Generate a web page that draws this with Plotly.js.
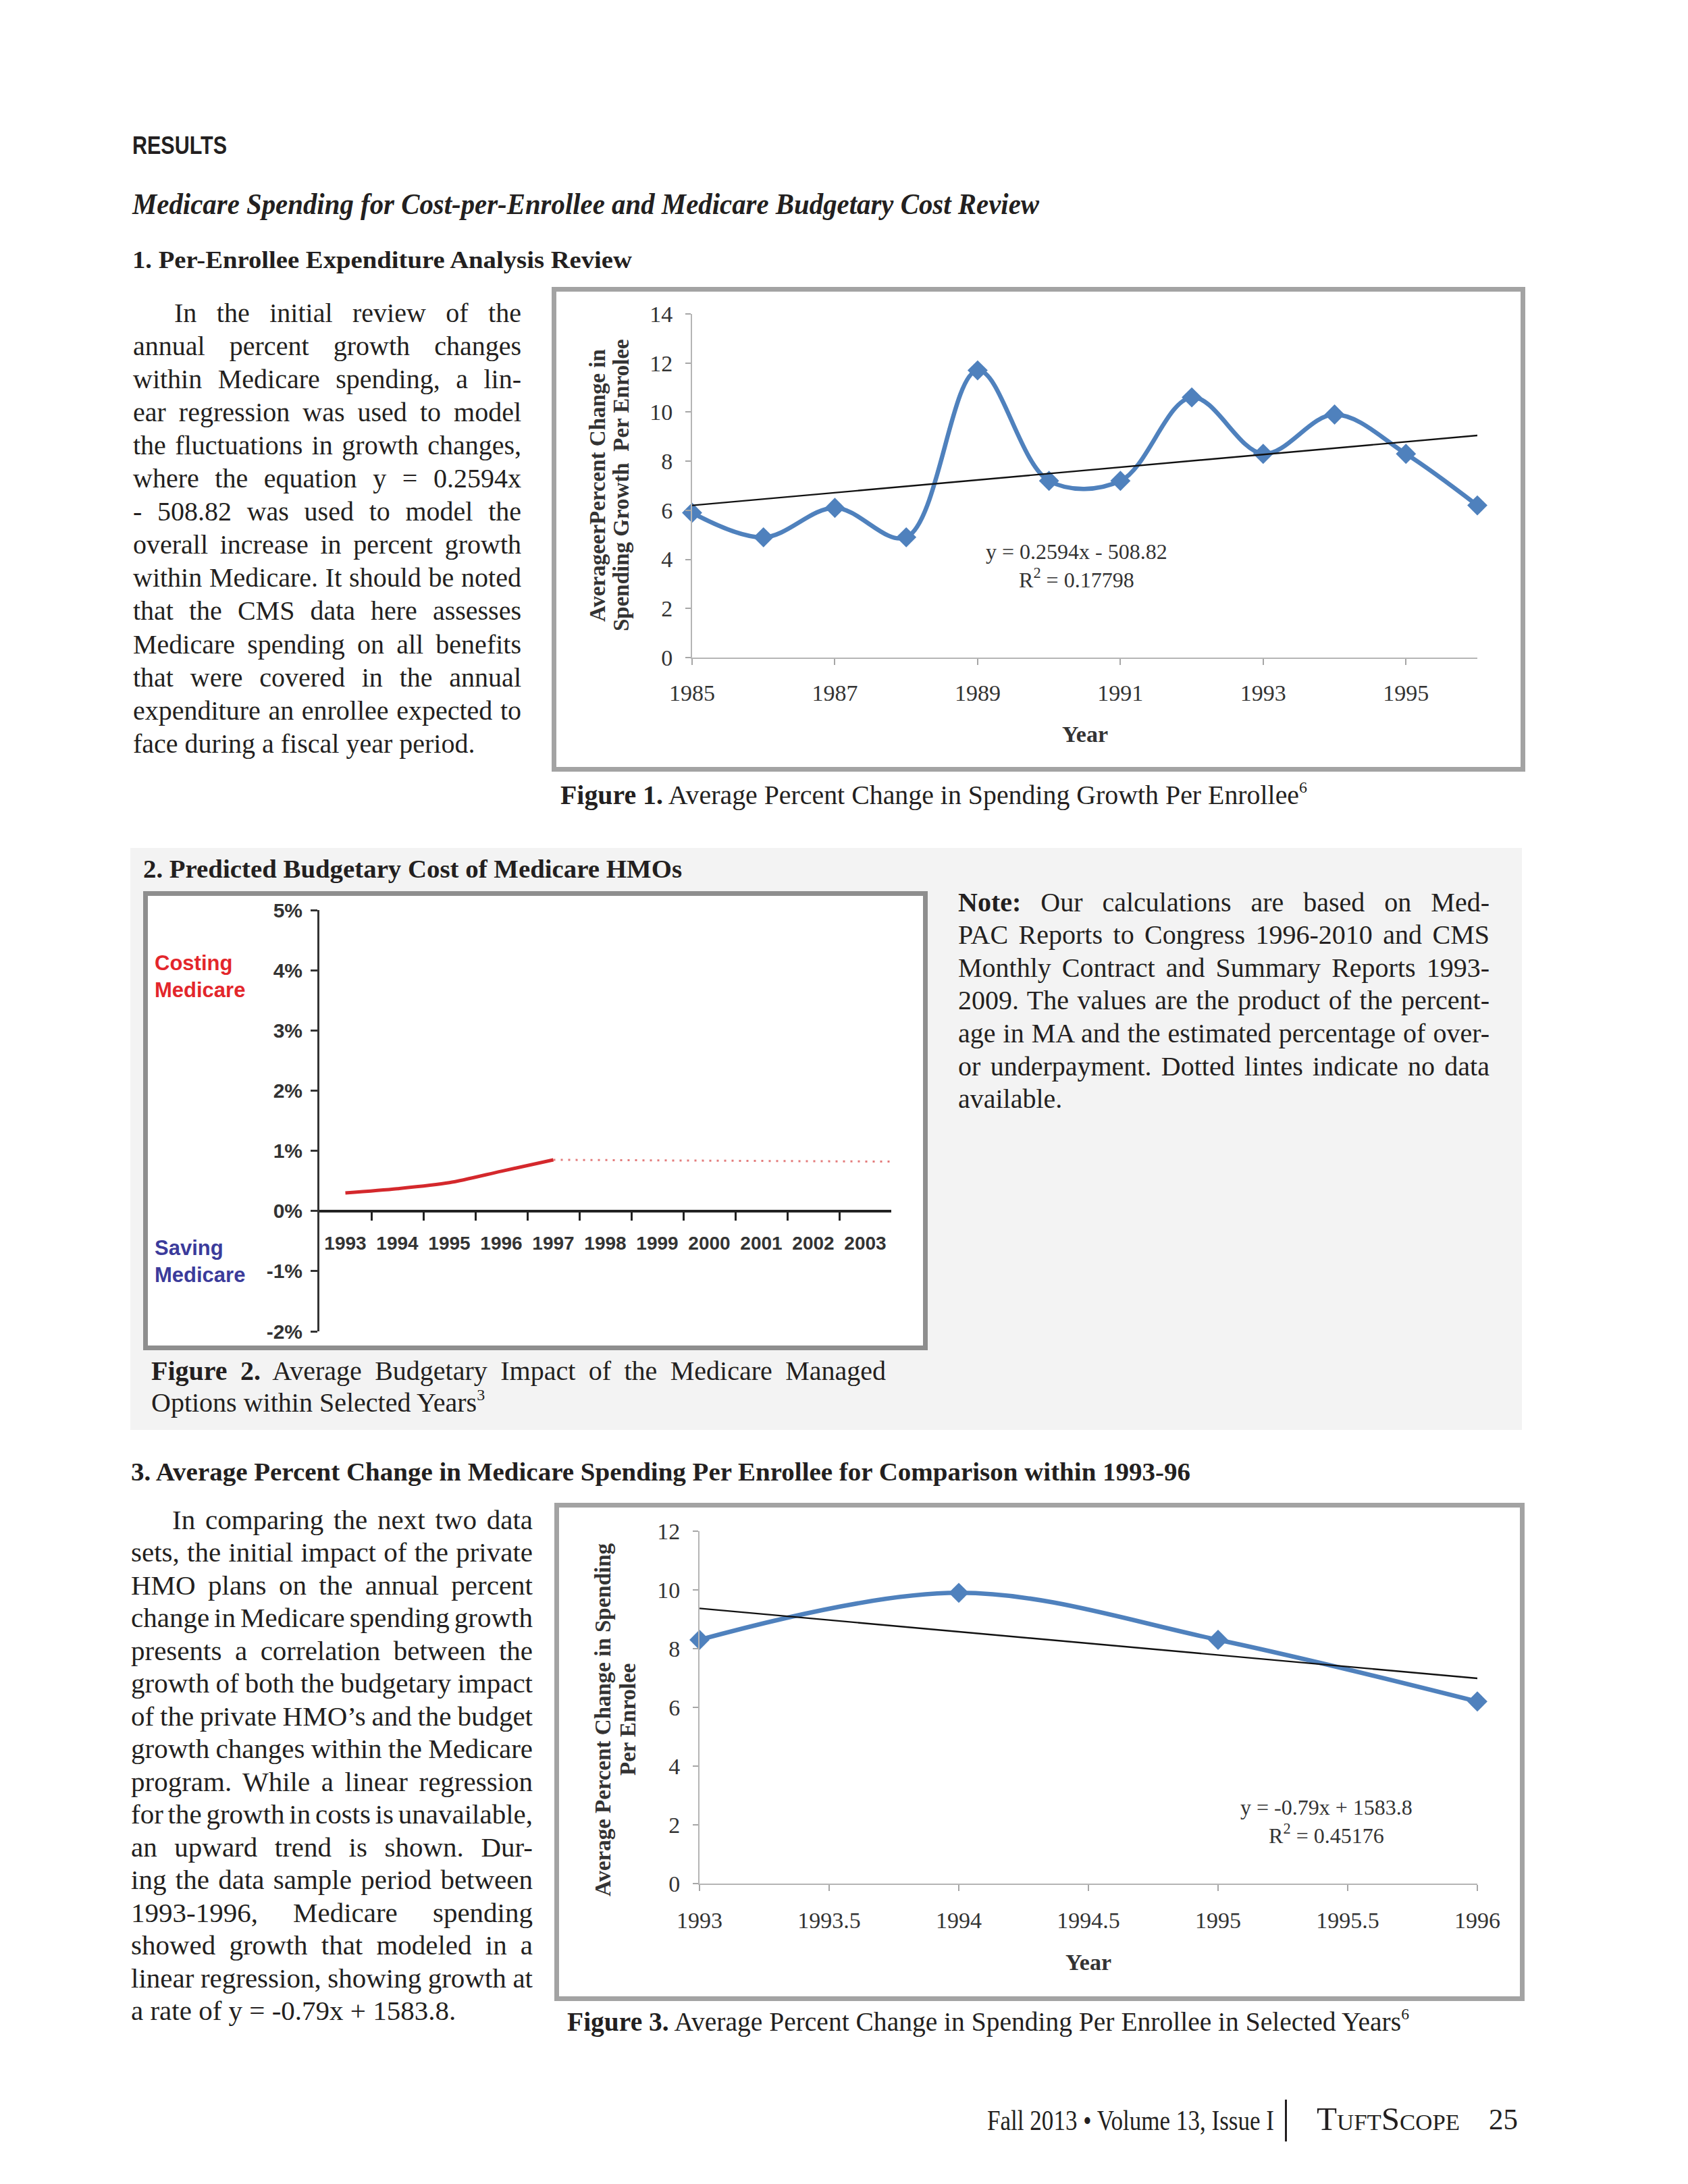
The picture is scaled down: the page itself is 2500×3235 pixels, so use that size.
<!DOCTYPE html>
<html><head><meta charset="utf-8">
<script src="https://cdn.plot.ly/plotly-3.0.1.min.js"></script>
<style>
html,body{margin:0;padding:0;background:#fff;}
body{width:2500px;height:3235px;position:relative;overflow:hidden;font-family:"Liberation Serif",serif;color:#231f20;}
.t{position:absolute;white-space:nowrap;line-height:1;transform-origin:0 0;}
.box{position:absolute;box-sizing:border-box;background:#fff;}
sup{font-size:0.6em;vertical-align:baseline;position:relative;top:-0.7em;line-height:1;}
</style></head><body>
<div style="position:absolute;left:193px;top:1256px;width:2061px;height:862px;background:#f3f3f3"></div>
<div class="box" style="left:817px;top:425px;width:1442px;height:718px;border:7px solid #a3a3a3"><div id="chart1" style="width:1428px;height:704px"></div></div>
<div class="box" style="left:212px;top:1320px;width:1162px;height:680px;border:7px solid #8e8e8e"><div id="chart2" style="width:1148px;height:666px"></div></div>
<div class="box" style="left:821px;top:2226px;width:1437px;height:738px;border:7px solid #a3a3a3"><div id="chart3" style="width:1423px;height:724px"></div></div>
<div style="position:absolute;left:1903px;top:3110px;width:3px;height:62px;background:#231f20"></div>
<script>
// ---------- chart data ----------
const years1 = [1985,1986,1987,1988,1989,1990,1991,1992,1993,1994,1995,1996];
const growth1 = [5.9,4.9,6.1,4.9,11.7,7.2,7.2,10.6,8.3,9.9,8.3,6.2];
const trend1X = [1985,1996];
const trend1Y = [6.2,9.05];
const xTicks1 = [1985,1987,1989,1991,1993,1995];
const yTicks1 = [0,2,4,6,8,10,12,14];
const eq1 = 'y = 0.2594x - 508.82<br>R<sup>2</sup> = 0.17798';

const years2 = [1993,1994,1995,1996,1997,1998,1999,2000,2001,2002,2003];
const impactYears = [1993,1994,1995,1996,1997];
const impact = [0.30,0.37,0.47,0.66,0.85];
const noDataX = [1997,2003.5];
const noDataY = [0.85,0.82];
const yTicks2 = [-2,-1,0,1,2,3,4,5];
const yTickLabels2 = ['-2%','-1%','0%','1%','2%','3%','4%','5%'];

const years3 = [1993,1994,1995,1996];
const growth3 = [8.3,9.9,8.3,6.2];
const trend3X = [1993,1996];
const trend3Y = [9.37,6.99];
const xTicks3 = [1993,1993.5,1994,1994.5,1995,1995.5,1996];
const yTicks3 = [0,2,4,6,8,10,12];
const eq3 = 'y = -0.79x + 1583.8<br>R<sup>2</sup> = 0.45176';

// ---------- page text ----------
const body1 = [
 'In the initial review of the',
 'annual percent growth changes',
 'within Medicare spending, a lin-',
 'ear regression was used to model',
 'the fluctuations in growth changes,',
 'where the equation y = 0.2594x',
 '- 508.82 was used to model the',
 'overall increase in percent growth',
 'within Medicare. It should be noted',
 'that the CMS data here assesses',
 'Medicare spending on all benefits',
 'that were covered in the annual',
 'expenditure an enrollee expected to',
 'face during a fiscal year period.'];
const noteLines = [
 '<b>Note:</b> Our calculations are based on Med-',
 'PAC Reports to Congress 1996-2010 and CMS',
 'Monthly Contract and Summary Reports 1993-',
 '2009. The values are the product of the percent-',
 'age in MA and the estimated percentage of over-',
 'or underpayment. Dotted lintes indicate no data',
 'available.'];
const fig2Lines = [
 '<b>Figure 2.</b> Average Budgetary Impact of the Medicare Managed',
 'Options within Selected Years<sup>3</sup>'];
const body3 = [
 'In comparing the next two data',
 'sets, the initial impact of the private',
 'HMO plans on the annual percent',
 'change in Medicare spending growth',
 'presents a correlation between the',
 'growth of both the budgetary impact',
 'of the private HMO\u2019s and the budget',
 'growth changes within the Medicare',
 'program. While a linear regression',
 'for the growth in costs is unavailable,',
 'an upward trend is shown. Dur-',
 'ing the data sample period between',
 '1993-1996, Medicare spending',
 'showed growth that modeled in a',
 'linear regression, showing growth at',
 'a rate of y = -0.79x + 1583.8.'];

function put(html,x,base,size,opt){
  opt=opt||{};
  const d=document.createElement('div'); d.className='t'; d.innerHTML=html;
  const fam=opt.family||'"Liberation Serif"';
  d.style.fontFamily=fam; d.style.fontSize=size+'px';
  if(opt.weight) d.style.fontWeight=opt.weight;
  if(opt.style) d.style.fontStyle=opt.style;
  if(opt.color) d.style.color=opt.color;
  if(opt.variant) d.style.fontVariant=opt.variant;
  const k=fam.indexOf('Sans')>=0?0.8465:0.8375;
  d.style.left=x+'px'; d.style.top=(base-k*size)+'px';
  document.body.appendChild(d);
  if(opt.w){
    const nat=d.getBoundingClientRect().width;
    if(opt.mode==='justify'){
      const n=(d.textContent.match(/ /g)||[]).length;
      if(n>0) d.style.wordSpacing=((opt.w-nat)/n)+'px';
    } else {
      d.style.transform='scaleX('+(opt.w/nat)+')';
    }
  }
  return d;
}
function para(lines,x,right,base0,lh,size,indent){
  lines.forEach((s,i)=>{
    const last=i===lines.length-1;
    const xx=x+(i===0?indent:0);
    put(s,xx,base0+lh*i,size,last?{}:{w:right-xx,mode:'justify'});
  });
}
put('RESULTS',196,228,37,{family:'"Liberation Sans"',weight:700,w:140});
put('Medicare Spending for Cost-per-Enrollee and Medicare Budgetary Cost Review',196,318,44,{weight:700,style:'italic',w:1343});
put('1. Per-Enrollee Expenditure Analysis Review',196,397,36,{weight:700,w:740});
para(body1,197,772,477,49.1,40,61);
put('<b>Figure 1.</b> Average Percent Change in Spending Growth Per Enrollee<sup>6</sup>',830,1191,40,{w:1106});
put('2. Predicted Budgetary Cost of Medicare HMOs',212,1300,37,{weight:700,w:798});
para(noteLines,1419,2206,1350,48.6,40,0);
para(fig2Lines,224,1312,2044,47,40,0);
put('3. Average Percent Change in Medicare Spending Per Enrollee for Comparison within 1993-96',194,2193,37,{weight:700,w:1569});
para(body3,194,789,2265,48.5,41,61);
put('<b>Figure 3.</b> Average Percent Change in Spending Per Enrollee in Selected Years<sup>6</sup>',840,3008,40,{w:1247});
put('Fall 2013 \u2022 Volume 13, Issue I',1462,3155,42,{w:425});
put('TuftScope',1950,3155,48,{variant:'small-caps',w:212});
put('25',2205,3155,44,{w:43});

// ---------- charts ----------
const serif='Liberation Serif';
const tcol='#333333';
const cfg={staticPlot:true,displayModeBar:false};
const blue='#4f81bd';

// Chart 1
(function(){
  const L=201,R=64,T=33,B=162,W=1428,H=704,pw=W-L-R,ph=H-T-B;
  const px=X=>(X-(824+L))/pw, py=Y=>((432+T+ph)-Y)/ph;
  Plotly.newPlot('chart1',[
    {x:years1,y:growth1,type:'scatter',mode:'lines+markers',cliponaxis:false,
     line:{color:blue,width:6.5,shape:'spline',smoothing:1},
     marker:{symbol:'diamond',size:23,color:blue}},
    {x:trend1X,y:trend1Y,type:'scatter',mode:'lines',cliponaxis:false,line:{color:'#111',width:2.4}}
  ],{
    width:W,height:H,margin:{l:L,r:R,t:T,b:B},paper_bgcolor:'#fff',plot_bgcolor:'#fff',showlegend:false,
    xaxis:{range:[1985,1996],tickvals:xTicks1,ticktext:xTicks1.map(String),ticks:'outside',ticklen:9,tickwidth:2,tickcolor:'#a6a6a6',
      showline:true,linecolor:'#b5b5b5',linewidth:2,showgrid:false,zeroline:false,ticklabelstandoff:12,
      tickfont:{family:serif,size:34,color:tcol}},
    yaxis:{range:[0,14],tickvals:yTicks1,ticktext:yTicks1.map(String),ticks:'outside',ticklen:8,tickwidth:2,tickcolor:'#a6a6a6',
      showline:true,linecolor:'#b5b5b5',linewidth:2,showgrid:false,zeroline:false,ticklabelstandoff:12,
      tickfont:{family:serif,size:34,color:tcol}},
    annotations:[
      {xref:'paper',yref:'paper',x:px(885),y:py(719),text:'<b>AverageerPercent Change in</b>',textangle:-90,showarrow:false,xanchor:'center',yanchor:'middle',font:{family:serif,size:33,color:tcol}},
      {xref:'paper',yref:'paper',x:px(920),y:py(719),text:'<b>Spending Growth  Per Enrolee</b>',textangle:-90,showarrow:false,xanchor:'center',yanchor:'middle',font:{family:serif,size:33,color:tcol}},
      {xref:'paper',yref:'paper',x:0.5,y:py(1087),text:'<b>Year</b>',showarrow:false,xanchor:'center',yanchor:'middle',font:{family:serif,size:34,color:tcol}},
      {xref:'paper',yref:'paper',x:px(1594),y:py(838),text:eq1,showarrow:false,xanchor:'center',yanchor:'middle',align:'center',font:{family:serif,size:32,color:tcol}}
    ]
  },cfg);
})();

// Chart 2
(function(){
  const L=254,R=47,T=21,B=21,W=1148,H=666,pw=W-L-R,ph=H-T-B;
  const px=X=>(X-(219+L))/pw, py=Y=>((1327+T+ph)-Y)/ph;
  const sans='Liberation Sans';
  Plotly.newPlot('chart2',[
    {x:noDataX,y:noDataY,type:'scatter',mode:'lines',cliponaxis:false,line:{color:'#e37b7b',width:3,dash:'3px,8px'}},
    {x:impactYears,y:impact,type:'scatter',mode:'lines',cliponaxis:false,line:{color:'#d4282c',width:5,shape:'spline',smoothing:0.8}}
  ],{
    width:W,height:H,margin:{l:L,r:R,t:T,b:B},paper_bgcolor:'#fff',plot_bgcolor:'#fff',showlegend:false,
    xaxis:{range:[1992.5,2003.5],anchor:'free',position:2/7,tickvals:years2,ticktext:years2.map(String),ticks:'',
      minor:{tickvals:years2.slice(0,-1).map(v=>v+0.5),ticks:'outside',ticklen:12,tickwidth:3,tickcolor:'#222',showgrid:false},
      showline:true,linecolor:'#222',linewidth:4,showgrid:false,zeroline:false,ticklabelstandoff:22,
      tickfont:{family:sans,size:28,color:'#333',weight:'bold'}},
    yaxis:{range:[-2,5],tickvals:yTicks2,ticktext:yTickLabels2,ticks:'outside',ticklen:10,tickwidth:3,tickcolor:'#333',
      showline:true,linecolor:'#333',linewidth:3,showgrid:false,zeroline:false,ticklabelstandoff:6,
      tickfont:{family:sans,size:30,color:'#333',weight:'bold'}},
    annotations:[
      {xref:'paper',yref:'paper',x:px(227),y:py(1446),text:'<b>Costing<br>Medicare</b>',showarrow:false,xanchor:'left',yanchor:'middle',align:'left',font:{family:sans,size:31,color:'#e3262b'}},
      {xref:'paper',yref:'paper',x:px(227),y:py(1868),text:'<b>Saving<br>Medicare</b>',showarrow:false,xanchor:'left',yanchor:'middle',align:'left',font:{family:sans,size:31,color:'#3b3b9b'}}
    ]
  },cfg);
})();

// Chart 3
(function(){
  const L=208,R=63,T=35,B=167,W=1423,H=724,pw=W-L-R,ph=H-T-B;
  const px=X=>(X-(828+L))/pw, py=Y=>((2233+T+ph)-Y)/ph;
  Plotly.newPlot('chart3',[
    {x:years3,y:growth3,type:'scatter',mode:'lines+markers',cliponaxis:false,
     line:{color:blue,width:6.5,shape:'spline',smoothing:1},
     marker:{symbol:'diamond',size:23,color:blue}},
    {x:trend3X,y:trend3Y,type:'scatter',mode:'lines',cliponaxis:false,line:{color:'#111',width:2.4}}
  ],{
    width:W,height:H,margin:{l:L,r:R,t:T,b:B},paper_bgcolor:'#fff',plot_bgcolor:'#fff',showlegend:false,
    xaxis:{range:[1993,1996],tickvals:xTicks3,ticktext:xTicks3.map(String),ticks:'outside',ticklen:9,tickwidth:2,tickcolor:'#a6a6a6',
      showline:true,linecolor:'#b5b5b5',linewidth:2,showgrid:false,zeroline:false,ticklabelstandoff:14,
      tickfont:{family:serif,size:34,color:tcol}},
    yaxis:{range:[0,12],tickvals:yTicks3,ticktext:yTicks3.map(String),ticks:'outside',ticklen:8,tickwidth:2,tickcolor:'#a6a6a6',
      showline:true,linecolor:'#b5b5b5',linewidth:2,showgrid:false,zeroline:false,ticklabelstandoff:12,
      tickfont:{family:serif,size:34,color:tcol}},
    annotations:[
      {xref:'paper',yref:'paper',x:px(893),y:py(2547),text:'<b>Average Percent Change in Spending</b>',textangle:-90,showarrow:false,xanchor:'center',yanchor:'middle',font:{family:serif,size:33,color:tcol}},
      {xref:'paper',yref:'paper',x:px(930),y:py(2547),text:'<b>Per Enrolee</b>',textangle:-90,showarrow:false,xanchor:'center',yanchor:'middle',font:{family:serif,size:33,color:tcol}},
      {xref:'paper',yref:'paper',x:0.5,y:py(2906),text:'<b>Year</b>',showarrow:false,xanchor:'center',yanchor:'middle',font:{family:serif,size:34,color:tcol}},
      {xref:'paper',yref:'paper',x:px(1964),y:py(2698),text:eq3,showarrow:false,xanchor:'center',yanchor:'middle',align:'center',font:{family:serif,size:32,color:tcol}}
    ]
  },cfg);
})();
</script>
</body></html>
